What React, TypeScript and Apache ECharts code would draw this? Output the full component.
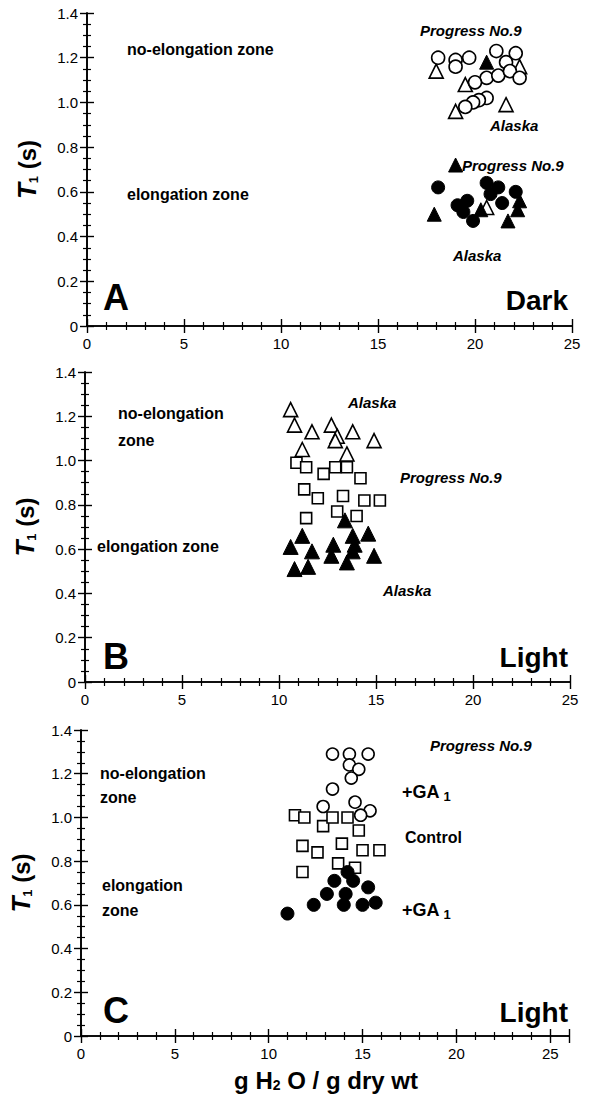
import { useEffect, useRef } from 'react';
import * as echarts from 'echarts';

type P = [number, number];

const xTickLabels = ['0', '5', '10', '15', '20', '25'];
const yTickLabels = ['0', '0.2', '0.4', '0.6', '0.8', '1.0', '1.2', '1.4'];
const xMax = [25, 25, 26];

// Panel A (Dark)
const aProgressOpen: P[] = [[18.1,1.20],[19.0,1.19],[19.0,1.16],[19.7,1.20],[21.1,1.23],[22.1,1.22],[21.6,1.18],[20.6,1.11],[21.2,1.12],[21.8,1.14],[22.3,1.11],[20.0,1.09],[20.6,1.02],[20.2,1.01],[19.9,1.00],[19.5,0.98]];
const aAlaskaOpen: P[] = [[18.0,1.14],[19.5,1.08],[19.0,0.96],[21.6,0.99],[22.3,1.16],[20.6,0.53]];
const aProgressFilled: P[] = [[18.1,0.62],[19.1,0.54],[19.6,0.56],[19.4,0.51],[19.9,0.47],[20.6,0.64],[20.8,0.59],[21.2,0.62],[21.4,0.55],[22.1,0.60]];
const aAlaskaFilled: P[] = [[19.0,0.72],[17.9,0.50],[22.3,0.56],[22.2,0.52],[21.7,0.47],[20.3,0.52],[20.6,1.18]];

// Panel B (Light)
const bAlaskaOpen: P[] = [[10.6,1.23],[10.8,1.16],[11.7,1.13],[12.7,1.16],[13.0,1.11],[12.9,1.09],[13.8,1.13],[14.9,1.09],[11.2,1.05],[13.5,1.03]];
const bProgressSquare: P[] = [[10.9,0.99],[11.4,0.97],[12.3,0.94],[12.9,0.97],[13.5,0.97],[14.2,0.92],[11.3,0.87],[12.0,0.83],[13.3,0.84],[14.4,0.82],[15.2,0.82],[11.4,0.74],[13.0,0.77],[14.0,0.75]];
const bAlaskaFilled: P[] = [[11.2,0.66],[10.6,0.61],[11.7,0.59],[10.8,0.51],[11.5,0.52],[12.8,0.62],[12.7,0.57],[13.8,0.66],[14.6,0.67],[13.9,0.62],[13.8,0.59],[13.5,0.54],[14.9,0.57],[13.4,0.73]];

// Panel C (Light)
const cGAOpen: P[] = [[13.4,1.29],[14.3,1.29],[15.3,1.29],[14.3,1.24],[14.8,1.22],[14.4,1.18],[13.4,1.13],[12.9,1.05],[14.6,1.07],[15.4,1.03],[14.9,1.01]];
const cControlSquare: P[] = [[11.4,1.01],[11.9,1.00],[12.9,0.96],[13.4,1.00],[14.2,1.00],[14.8,0.94],[11.8,0.87],[12.6,0.84],[13.9,0.88],[15.0,0.85],[15.9,0.85],[11.8,0.75],[13.7,0.79],[14.6,0.77]];
const cGAFilled: P[] = [[11.0,0.56],[12.4,0.60],[13.1,0.65],[13.5,0.71],[14.2,0.75],[14.5,0.71],[14.1,0.65],[14.0,0.60],[15.3,0.68],[15.0,0.60],[15.7,0.61]];

const FONT = '"Liberation Sans", Arial, sans-serif';

const grids = [
  { left: 87, top: 13, width: 485, height: 313 },
  { left: 85, top: 372, width: 485, height: 310 },
  { left: 81, top: 730, width: 488, height: 306 },
];

function buildOption() {
  const xAxis: any[] = [];
  const yAxis: any[] = [];
  const axisLine = { show: true, lineStyle: { color: '#000', width: 1.6 } };
  grids.forEach((_, i) => {
    const xBase = {
      type: 'value', gridIndex: i, min: 0, max: xMax[i], interval: 5,
      axisLine, splitLine: { show: false },
      axisTick: { show: true, inside: true, length: 7, lineStyle: { color: '#000', width: 1.4 } },
      minorTick: { show: true, splitNumber: 5, length: 4, lineStyle: { color: '#000', width: 1.2 } },
    };
    xAxis.push({
      ...xBase, position: 'bottom',
      axisLabel: {
        color: '#000', fontFamily: FONT, fontSize: 15, margin: 10,
        formatter: (v: number) => (xTickLabels.includes(String(v)) ? String(v) : ''),
      },
    });
    xAxis.push({ ...xBase, position: 'top', axisLabel: { show: false } });
    const yBase = {
      type: 'value', gridIndex: i, min: 0, max: 1.4, interval: 0.2,
      axisLine, splitLine: { show: false },
      axisTick: { show: true, inside: true, length: 7, lineStyle: { color: '#000', width: 1.4 } },
      minorTick: { show: true, splitNumber: 4, length: 4, lineStyle: { color: '#000', width: 1.2 } },
    };
    yAxis.push({
      ...yBase, position: 'left',
      axisLabel: {
        color: '#000', fontFamily: FONT, fontSize: 15, margin: 9,
        formatter: (v: number) => yTickLabels[Math.round(v / 0.2)] ?? '',
      },
      name: '{t|T}{s|1}{n| (s)}', nameLocation: 'middle', nameRotate: 90, nameGap: 47,
      nameTextStyle: {
        rich: {
          t: { fontFamily: FONT, fontSize: 26, fontWeight: 'bold', fontStyle: 'italic', color: '#000' },
          s: { fontFamily: FONT, fontSize: 13, fontWeight: 'bold', color: '#000', verticalAlign: 'bottom', padding: [10, 0, 0, 0] },
          n: { fontFamily: FONT, fontSize: 24, fontWeight: 'bold', color: '#000' },
        },
      },
    });
    yAxis.push({ ...yBase, position: 'right', axisLabel: { show: false } });
  });

  const open = { color: '#fff', borderColor: '#000', borderWidth: 1.6, opacity: 1 };
  const filled = { color: '#000', borderColor: '#000', borderWidth: 1, opacity: 1 };
  const mk = (name: string, data: P[], gi: number, symbol: string, size: number, style: any, z = 2) => ({
    type: 'scatter', name, data, xAxisIndex: gi * 2, yAxisIndex: gi * 2,
    symbol, symbolSize: size, itemStyle: style, z, silent: true,
  });

  const series = [
    mk('A Alaska open', aAlaskaOpen, 0, 'triangle', 14, open),
    mk('A Progress open', aProgressOpen, 0, 'circle', 13, open, 3),
    mk('A Progress filled', aProgressFilled, 0, 'circle', 13, filled),
    mk('A Alaska filled', aAlaskaFilled, 0, 'triangle', 14, filled, 4),
    mk('B Alaska open', bAlaskaOpen, 1, 'triangle', 14, open),
    mk('B Progress square', bProgressSquare, 1, 'rect', 11, open, 3),
    mk('B Alaska filled', bAlaskaFilled, 1, 'triangle', 15, filled, 4),
    mk('C GA open', cGAOpen, 2, 'circle', 12, open),
    mk('C Control', cControlSquare, 2, 'rect', 11, open, 3),
    mk('C GA filled', cGAFilled, 2, 'circle', 13, filled, 4),
  ];

  const txt = (text: string, x: number, y: number, size: number, opts: any = {}) => ({
    type: 'text', x, y, z: 10,
    style: {
      text, fontFamily: FONT, fontSize: size, fontWeight: 'bold', fill: '#000',
      textAlign: opts.align || 'left', textVerticalAlign: 'middle', fontStyle: opts.italic ? 'italic' : 'normal',
    },
  });
  const gaRich = (x: number, y: number) => ({
    type: 'text', x, y, z: 10,
    style: {
      text: '{a|+GA}{b|1}', textVerticalAlign: 'middle',
      rich: {
        a: { fontFamily: FONT, fontSize: 18, fontWeight: 'bold', color: '#000' },
        b: { fontFamily: FONT, fontSize: 13, fontWeight: 'bold', color: '#000', padding: [8, 0, 0, 4] },
      },
    },
  });

  const Z = 16; // zone label size
  const I = 15; // italic cultivar label size
  const graphic = [
    // Panel A
    txt('no-elongation zone', 127, 49, Z),
    txt('elongation zone', 127, 194, Z),
    txt('Progress No.9', 420, 30, I, { italic: true }),
    txt('Alaska', 490, 125, I, { italic: true }),
    txt('Progress No.9', 462, 165, I, { italic: true }),
    txt('Alaska', 453, 255, I, { italic: true }),
    txt('A', 103, 297, 36),
    txt('Dark', 568, 300, 28, { align: 'right' }),
    // Panel B
    txt('Alaska', 348, 402, I, { italic: true }),
    txt('no-elongation', 118, 413, Z),
    txt('zone', 118, 440, Z),
    txt('Progress No.9', 400, 477, I, { italic: true }),
    txt('elongation zone', 97, 546, Z),
    txt('Alaska', 383, 590, I, { italic: true }),
    txt('B', 103, 656, 36),
    txt('Light', 568, 657, 28, { align: 'right' }),
    // Panel C
    txt('Progress No.9', 430, 745, I, { italic: true }),
    txt('no-elongation', 100, 773, Z),
    txt('zone', 100, 797, Z),
    gaRich(402, 792),
    txt('Control', 405, 837, Z),
    txt('elongation', 102, 885, Z),
    txt('zone', 102, 910, Z),
    gaRich(402, 910),
    txt('C', 103, 1010, 36),
    txt('Light', 568, 1012, 28, { align: 'right' }),
    // X title
    {
      type: 'text', x: 326, y: 1080, z: 10,
      style: {
        text: '{a|g H}{b|2}{a| O / g dry wt}', textAlign: 'center', textVerticalAlign: 'middle',
        rich: {
          a: { fontFamily: FONT, fontSize: 24, fontWeight: 'bold', color: '#000' },
          b: { fontFamily: FONT, fontSize: 14, fontWeight: 'bold', color: '#000', padding: [10, 0, 0, 0] },
        },
      },
    },
  ];

  return {
    animation: false,
    backgroundColor: '#fff',
    grid: grids.map((g) => ({ ...g, containLabel: false })),
    xAxis, yAxis, series, graphic,
  };
}

export default function App() {
  const ref = useRef<HTMLDivElement>(null);
  useEffect(() => {
    if (!ref.current) return;
    const chart = echarts.init(ref.current, undefined, { renderer: 'svg' });
    chart.setOption(buildOption() as any);
    return () => chart.dispose();
  }, []);
  return <div ref={ref} style={{ position: 'fixed', left: 0, top: 0, width: 596, height: 1104, background: '#fff' }} />;
}
